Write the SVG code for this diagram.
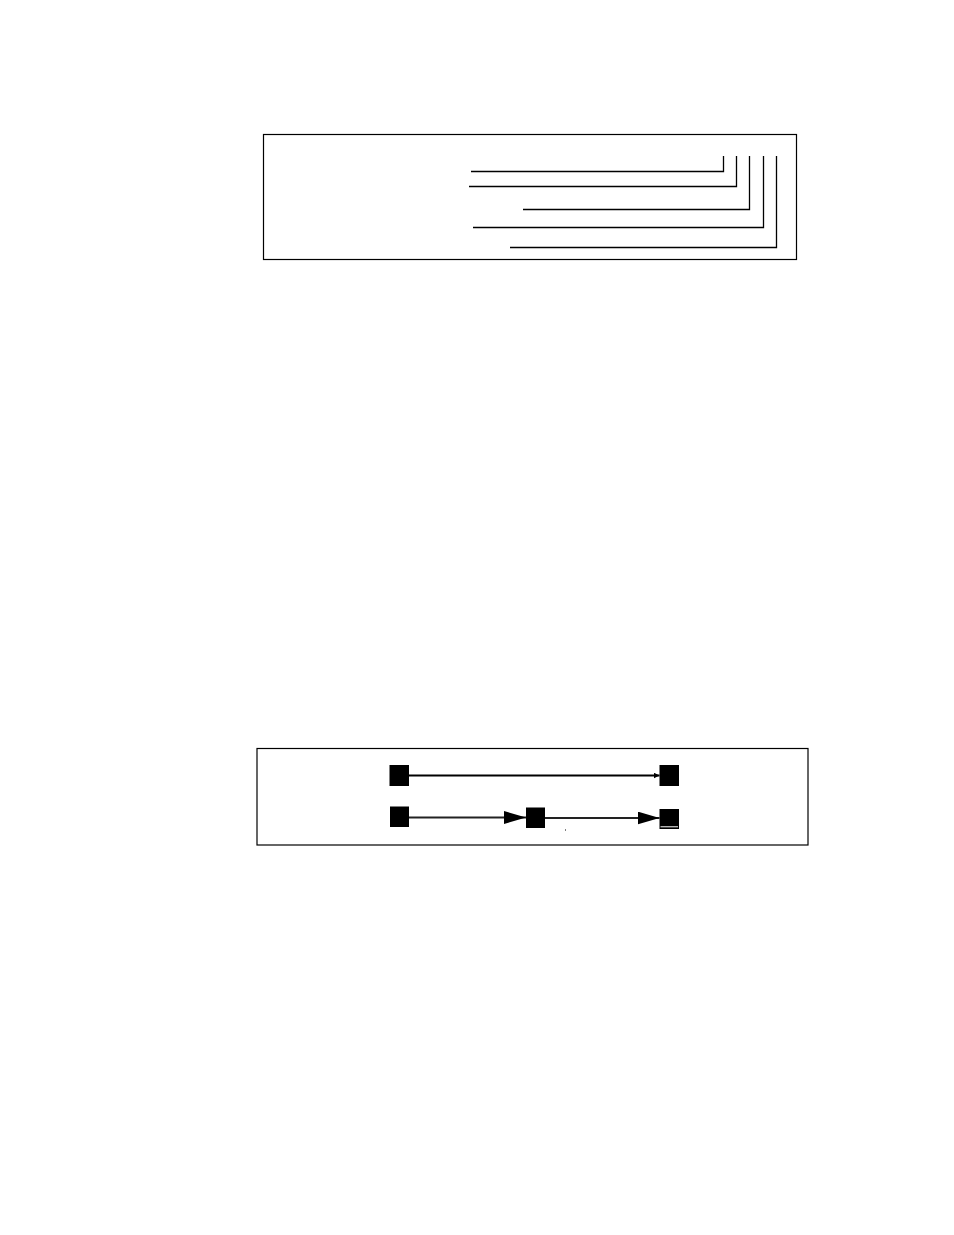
<svg xmlns="http://www.w3.org/2000/svg" width="954" height="1235" viewBox="0 0 954 1235">
<style>
.frame{fill:none;stroke:#000;stroke-width:1.2}
.lead{fill:none;stroke:#000;stroke-width:1.3}
.node{fill:#000}
.edge{fill:none;stroke:#000;stroke-width:2}
.edge2{fill:none;stroke:#222;stroke-width:2.2}
</style>
<defs>
<marker id="small" markerUnits="userSpaceOnUse" markerWidth="6" markerHeight="6" refX="6" refY="3" orient="auto"><path d="M0,0 L6,3 L0,6 Z" fill="#000"/></marker>
<marker id="big" markerUnits="userSpaceOnUse" markerWidth="22" markerHeight="13" refX="22" refY="6.5" orient="auto"><path d="M0,0 L22,6.5 L0,13 Z" fill="#000"/></marker>
</defs>
<rect fill="#fff" width="954" height="1235"/>
<g id="top-frame">
<rect class="frame" x="263.5" y="134.5" width="533" height="125"/>
</g>
<g id="leaders">
<polyline class="lead" points="471,171.5 723.5,171.5 723.5,156"/>
<polyline class="lead" points="469,186.5 736.5,186.5 736.5,156"/>
<polyline class="lead" points="523,209.5 749.5,209.5 749.5,156"/>
<polyline class="lead" points="473,227.5 763.5,227.5 763.5,156"/>
<polyline class="lead" points="510,247.5 776.5,247.5 776.5,156"/>
</g>
<g id="bottom-frame">
<rect class="frame" x="257" y="748.5" width="551" height="96.5"/>
</g>
<g id="connectors">
<line class="edge" x1="409" y1="775.5" x2="659.5" y2="775.5" marker-end="url(#small)"/>
<line class="edge2" x1="409" y1="817.5" x2="526" y2="817.5" marker-end="url(#big)"/>
<line class="edge2" x1="545" y1="818" x2="659.5" y2="818" marker-end="url(#big)"/>
</g>
<g id="node-a1"><rect class="node" x="389.5" y="765" width="19.5" height="21"/></g>
<g id="node-a2"><rect class="node" x="659.5" y="765" width="19.5" height="21"/></g>
<g id="node-b1"><rect class="node" x="390" y="806.5" width="19" height="20.5"/></g>
<g id="node-b2"><rect class="node" x="526" y="807.5" width="19" height="20.5"/></g>
<g id="node-b3"><rect class="node" x="659.5" y="809" width="19.5" height="20"/><line x1="660.5" y1="826.8" x2="678" y2="826.8" stroke="#fff" stroke-width="1"/></g>
<rect x="565" y="829.5" width="1" height="1" fill="#000"/>
</svg>
